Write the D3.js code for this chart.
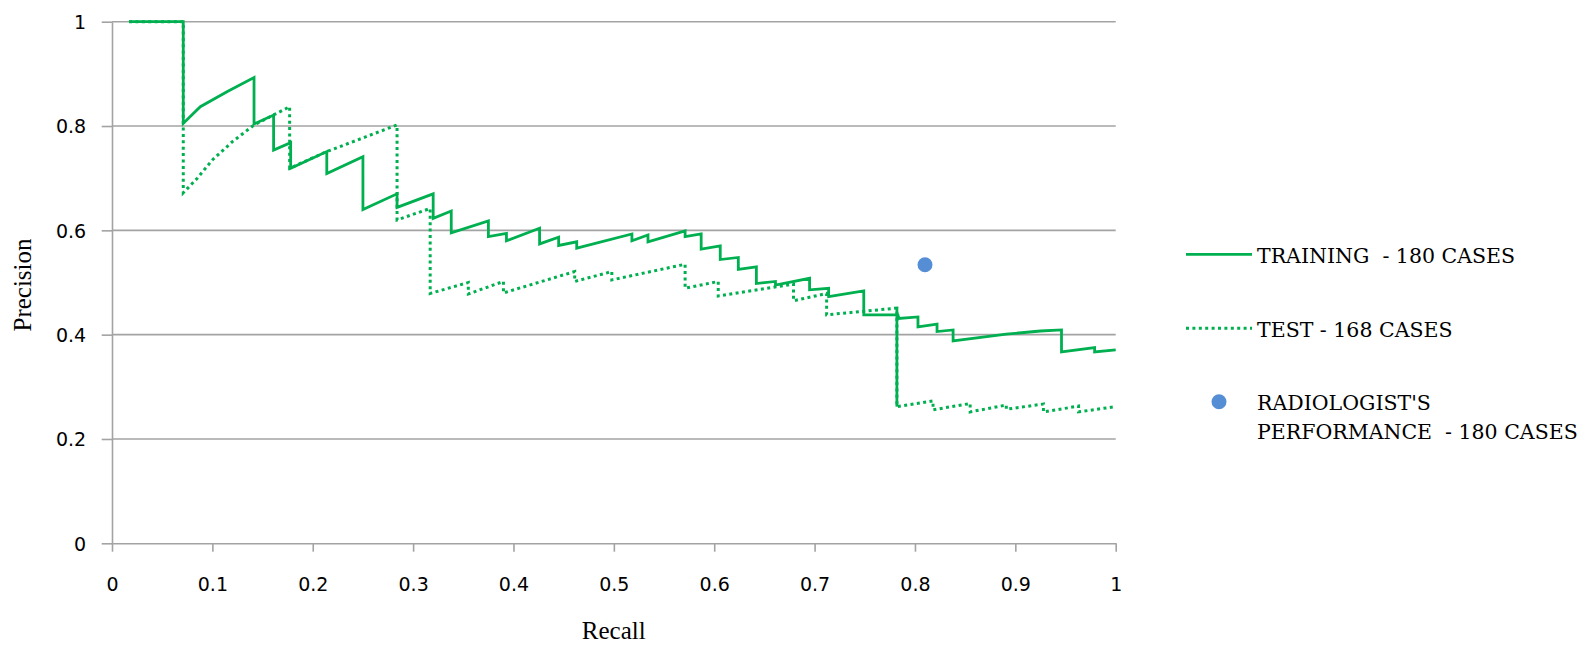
<!DOCTYPE html>
<html>
<head>
<meta charset="utf-8">
<script src="https://cdn.jsdelivr.net/npm/d3@7"></script>
<style>
  html, body { margin: 0; padding: 0; background: #ffffff; }
  svg { display: block; }
</style>
</head>
<body>
<svg id="chart" width="1590" height="647"></svg>
<script>
// ---------------- DATA ----------------
const trainingRecall = [0.017, 0.071, 0.071, 0.080, 0.088, 0.115, 0.1415, 0.1415, 0.161, 0.161, 0.178, 0.178, 0.214, 0.214, 0.250, 0.250, 0.284, 0.284, 0.320, 0.320, 0.338, 0.338, 0.375, 0.375, 0.393, 0.393, 0.426, 0.426, 0.445, 0.445, 0.463, 0.463, 0.518, 0.518, 0.534, 0.534, 0.571, 0.571, 0.587, 0.587, 0.606, 0.606, 0.624, 0.624, 0.642, 0.642, 0.661, 0.661, 0.695, 0.695, 0.714, 0.714, 0.749, 0.749, 0.783, 0.784, 0.803, 0.803, 0.822, 0.822, 0.838, 0.838, 0.891, 0.925, 0.946, 0.946, 0.979, 0.979, 1.0];
const trainingPrecision = [1.0, 1.0, 0.805, 0.822, 0.837, 0.866, 0.893, 0.804, 0.821, 0.754, 0.768, 0.719, 0.751, 0.709, 0.741, 0.640, 0.670, 0.644, 0.670, 0.623, 0.637, 0.595, 0.618, 0.588, 0.594, 0.580, 0.604, 0.574, 0.587, 0.571, 0.578, 0.566, 0.593, 0.580, 0.591, 0.578, 0.599, 0.588, 0.593, 0.564, 0.570, 0.544, 0.548, 0.525, 0.530, 0.498, 0.502, 0.495, 0.508, 0.486, 0.489, 0.473, 0.484, 0.438, 0.438, 0.431, 0.434, 0.415, 0.420, 0.406, 0.409, 0.388, 0.401, 0.407, 0.409, 0.367, 0.375, 0.367, 0.371];

const testRecall = [0.017, 0.071, 0.071, 0.085, 0.100, 0.120, 0.1415, 0.177, 0.177, 0.214, 0.284, 0.284, 0.317, 0.317, 0.355, 0.355, 0.390, 0.390, 0.461, 0.461, 0.498, 0.498, 0.571, 0.571, 0.604, 0.604, 0.679, 0.679, 0.712, 0.712, 0.782, 0.782, 0.818, 0.818, 0.855, 0.855, 0.891, 0.891, 0.928, 0.928, 0.963, 0.963, 1.0];
const testPrecision = [1.0, 1.0, 0.672, 0.700, 0.735, 0.770, 0.802, 0.837, 0.719, 0.751, 0.802, 0.620, 0.642, 0.479, 0.500, 0.478, 0.502, 0.480, 0.521, 0.502, 0.521, 0.505, 0.535, 0.489, 0.502, 0.474, 0.497, 0.465, 0.479, 0.438, 0.451, 0.262, 0.273, 0.256, 0.268, 0.252, 0.265, 0.257, 0.267, 0.252, 0.263, 0.252, 0.262];

const radiologistRecall = [0.81];
const radiologistPrecision = [0.534];

const xTicks = [0, 0.1, 0.2, 0.3, 0.4, 0.5, 0.6, 0.7, 0.8, 0.9, 1];
const yTicks = [0, 0.2, 0.4, 0.6, 0.8, 1];

const seriesNames = ["TRAINING  - 180 CASES", "TEST - 168 CASES"];
const radiologistLabel = ["RADIOLOGIST'S", "PERFORMANCE  - 180 CASES"];
const xTitle = "Recall";
const yTitle = "Precision";

// ---------------- DRAW ----------------
const svg = d3.select("#chart");
const green = "#00b050";
const blue = "#558ed5";
const gridColor = "#a3a3a3";

const x = d3.scaleLinear().domain([0, 1]).range([112, 1115.7]);
const y = d3.scaleLinear().domain([0, 1]).range([543.3, 21.7]);

// gridlines
svg.append("g").selectAll("line")
  .data(yTicks.filter(d => d > 0))
  .join("line")
  .attr("x1", x(0)).attr("x2", x(1))
  .attr("y1", d => y(d)).attr("y2", d => y(d))
  .attr("stroke", gridColor).attr("stroke-width", 1.6);

// y axis
const yAxis = svg.append("g")
  .attr("transform", `translate(${x(0)},0)`)
  .call(d3.axisLeft(y).tickValues(yTicks).tickSizeInner(10.3).tickSizeOuter(0)
        .tickPadding(15.5).tickFormat(d => String(d)));
yAxis.selectAll("path, line").attr("stroke", gridColor).attr("stroke-width", 1.6);
yAxis.selectAll("text")
  .attr("font-family", "DejaVu Sans")
  .attr("font-size", 19)
  .attr("fill", "#000")
  .attr("dy", "0.36em");

// x axis
const xAxis = svg.append("g")
  .attr("transform", `translate(0,${y(0)})`)
  .call(d3.axisBottom(x).tickValues(xTicks).tickSizeInner(8.4).tickSizeOuter(0)
        .tickPadding(26).tickFormat(d => String(d)));
xAxis.selectAll("path, line").attr("stroke", gridColor).attr("stroke-width", 1.6);
xAxis.selectAll("text")
  .attr("font-family", "DejaVu Sans")
  .attr("font-size", 19)
  .attr("fill", "#000");

// axis titles
svg.append("text")
  .attr("x", 613.7).attr("y", 639)
  .attr("text-anchor", "middle")
  .attr("font-family", "Liberation Serif")
  .attr("font-size", 25)
  .attr("fill", "#000")
  .text(xTitle);

svg.append("text")
  .attr("transform", "translate(31,285) rotate(-90)")
  .attr("text-anchor", "middle")
  .attr("font-family", "Liberation Serif")
  .attr("font-size", 25)
  .attr("fill", "#000")
  .text(yTitle);

// lines
const line = d3.line().x(d => x(d[0])).y(d => y(d[1]));
const trainPts = trainingRecall.map((r, i) => [r, trainingPrecision[i]]);
const testPts = testRecall.map((r, i) => [r, testPrecision[i]]);

svg.append("path")
  .datum(testPts)
  .attr("d", line)
  .attr("fill", "none")
  .attr("stroke", green)
  .attr("stroke-width", 3)
  .attr("stroke-dasharray", "3,3.4")
  .attr("stroke-linejoin", "miter");

// the large vertical drop of the test curve is drawn solid in the reference
let dropIdx = 1, dropMax = 0;
for (let i = 1; i < testPts.length; i++) {
  const dd = testPts[i - 1][1] - testPts[i][1];
  if (testPts[i][0] === testPts[i - 1][0] && dd > dropMax && testPts[i][0] > 0.5) { dropMax = dd; dropIdx = i; }
}
svg.append("path")
  .datum([testPts[dropIdx - 1], testPts[dropIdx]])
  .attr("d", line)
  .attr("fill", "none")
  .attr("stroke", green)
  .attr("stroke-width", 2.8);

svg.append("path")
  .datum(trainPts)
  .attr("d", line)
  .attr("fill", "none")
  .attr("stroke", green)
  .attr("stroke-width", 2.8)
  .attr("stroke-linejoin", "miter");

// radiologist point
svg.append("g").selectAll("circle")
  .data(radiologistRecall.map((r, i) => [r, radiologistPrecision[i]]))
  .join("circle")
  .attr("cx", d => x(d[0])).attr("cy", d => y(d[1]))
  .attr("r", 7.5)
  .attr("fill", blue);

// legend
const legend = svg.append("g");
const lgFont = "DejaVu Serif";
const lgSize = 20.5;
legend.append("line")
  .attr("x1", 1186).attr("x2", 1252).attr("y1", 254.3).attr("y2", 254.3)
  .attr("stroke", green).attr("stroke-width", 2.8);
legend.append("text")
  .attr("x", 1257).attr("y", 262.5)
  .attr("font-family", lgFont).attr("font-size", lgSize).attr("fill", "#000")
  .attr("xml:space", "preserve").style("white-space", "pre")
  .text(seriesNames[0]);

legend.append("line")
  .attr("x1", 1186).attr("x2", 1252).attr("y1", 328.3).attr("y2", 328.3)
  .attr("stroke", green).attr("stroke-width", 3).attr("stroke-dasharray", "3,3.4");
legend.append("text")
  .attr("x", 1257).attr("y", 337)
  .attr("font-family", lgFont).attr("font-size", lgSize).attr("fill", "#000")
  .style("white-space", "pre")
  .text(seriesNames[1]);

legend.append("circle")
  .attr("cx", 1219).attr("cy", 401.7).attr("r", 7.5).attr("fill", blue);
legend.append("text")
  .attr("x", 1257).attr("y", 410)
  .attr("font-family", lgFont).attr("font-size", lgSize).attr("fill", "#000")
  .style("white-space", "pre")
  .text(radiologistLabel[0]);
legend.append("text")
  .attr("x", 1257).attr("y", 438.5)
  .attr("font-family", lgFont).attr("font-size", lgSize).attr("fill", "#000")
  .style("white-space", "pre")
  .text(radiologistLabel[1]);
</script>
</body>
</html>
